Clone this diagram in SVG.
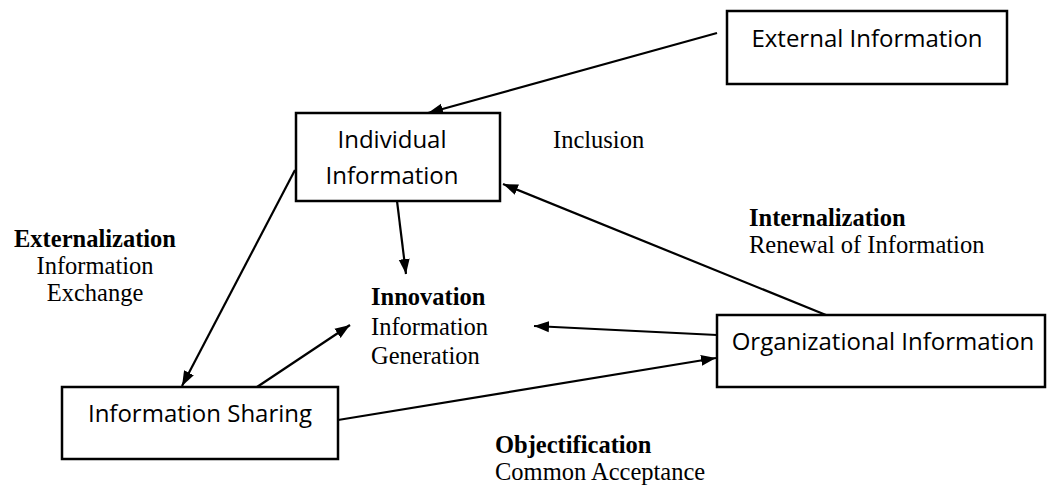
<svg xmlns="http://www.w3.org/2000/svg" width="1054" height="485" viewBox="0 0 1054 485">
<defs>
<marker id="ah" markerUnits="userSpaceOnUse" markerWidth="16" markerHeight="12" refX="15" refY="6" orient="auto">
<path d="M0,0.5 L15,6 L0,11.5 z" fill="#000"/>
</marker>
<style>
.box{fill:#fff;stroke:#000;stroke-width:2.5}
.bt{font-family:"Open Sans","Liberation Sans",sans-serif;font-size:24px;fill:#000;text-anchor:middle}
.lb{font-family:"Liberation Serif",serif;font-size:24.5px;fill:#000}
.b{font-weight:bold}
.cn{stroke:#000;stroke-width:2.2;fill:none}
</style>
</defs>
<rect width="1054" height="485" fill="#fff"/>
<g id="connectors">
<line class="cn" x1="717" y1="33" x2="428" y2="113" marker-end="url(#ah)"/>
<line class="cn" x1="826" y1="315" x2="503" y2="184" marker-end="url(#ah)"/>
<line class="cn" x1="397" y1="201" x2="406" y2="274" marker-end="url(#ah)"/>
<line class="cn" x1="295" y1="170" x2="182" y2="386" marker-end="url(#ah)"/>
<line class="cn" x1="257" y1="387" x2="350" y2="325" marker-end="url(#ah)"/>
<line class="cn" x1="717" y1="335" x2="534" y2="326" marker-end="url(#ah)"/>
<line class="cn" x1="338" y1="420" x2="716" y2="358" marker-end="url(#ah)"/>
</g>
<g id="external">
<rect class="box" x="727" y="11" width="280" height="73"/>
<text class="bt" x="867" y="47">External Information</text>
</g>
<g id="individual">
<rect class="box" x="296" y="113" width="204" height="88"/>
<text class="bt" x="392" y="148">Individual</text>
<text class="bt" x="392" y="184">Information</text>
</g>
<g id="organizational">
<rect class="box" x="717" y="315" width="328" height="72"/>
<text class="bt" x="883" y="350">Organizational Information</text>
</g>
<g id="sharing">
<rect class="box" x="62" y="387" width="276" height="72"/>
<text class="bt" x="200" y="422">Information Sharing</text>
</g>
<g id="labels">
<text class="lb" x="553" y="148">Inclusion</text>
<text class="lb" text-anchor="middle" x="95" y="247"><tspan class="b">Externalization</tspan><tspan x="95" y="274">Information</tspan><tspan x="95" y="301">Exchange</tspan></text>
<text class="lb" x="371" y="305"><tspan class="b">Innovation</tspan><tspan x="371" y="335">Information</tspan><tspan x="371" y="364">Generation</tspan></text>
<text class="lb" x="749" y="226"><tspan class="b">Internalization</tspan><tspan x="749" y="253">Renewal of Information</tspan></text>
<text class="lb" x="495" y="453"><tspan class="b">Objectification</tspan><tspan x="495" y="480">Common Acceptance</tspan></text>
</g>
</svg>
